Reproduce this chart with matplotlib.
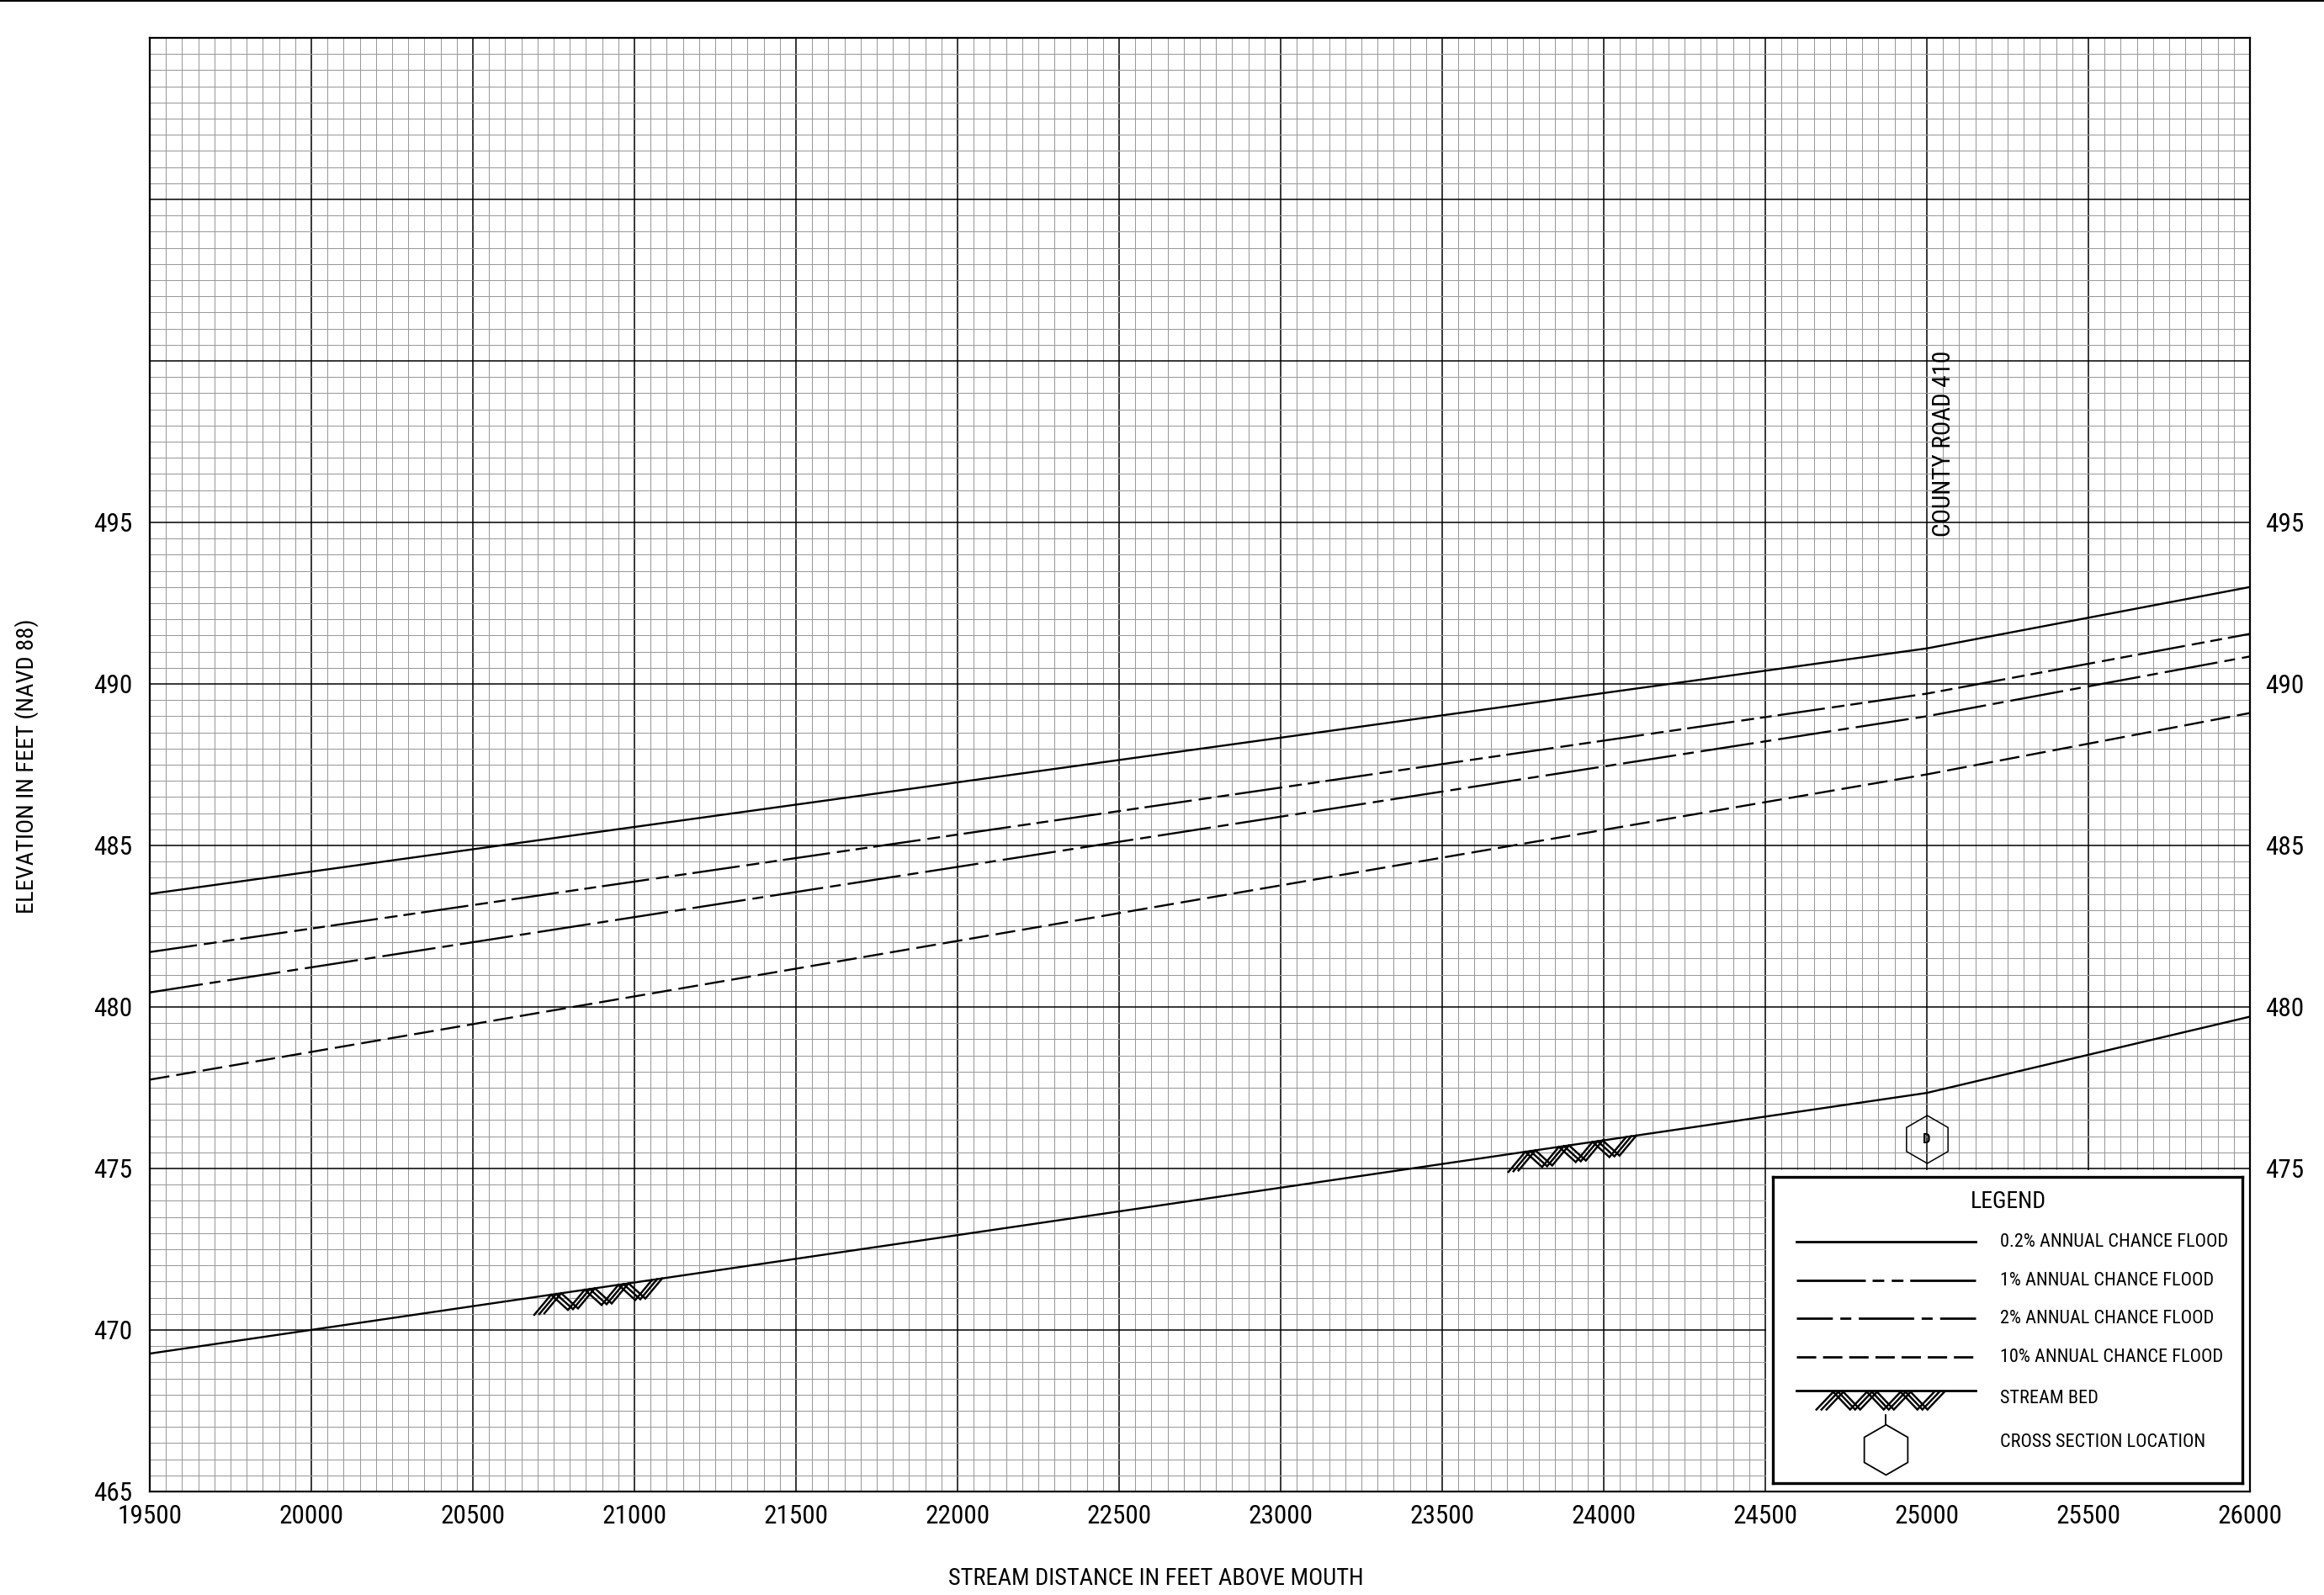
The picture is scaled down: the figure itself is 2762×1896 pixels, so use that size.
import numpy as np
import matplotlib
matplotlib.use('Agg')
import matplotlib.pyplot as plt
from matplotlib import font_manager
from matplotlib.lines import Line2D
from matplotlib.patches import Rectangle
from matplotlib.transforms import IdentityTransform
from matplotlib.ticker import MultipleLocator

# ---------------- data ----------------
stations = [19500, 25000, 26000]
flood_02 = [483.5, 491.1, 493.0]
flood_1 = [481.7, 489.7, 491.55]
flood_2 = [480.45, 489.0, 490.85]
flood_10 = [477.75, 487.2, 489.1]
stream_bed = [469.27, 477.34, 479.7]
hatch_ranges = [(20690, 21100), (23705, 24120)]
xs_station = 25000
xs_elev = 475.9
xs_letter = 'D'
road_station = 25000
road_label = 'COUNTY ROAD 410'
x_ticks = list(range(19500, 26001, 500))
y_major = list(range(465, 511, 5))
y_ticks_left = [465, 470, 475, 480, 485, 490, 495]
y_ticks_right = [475, 480, 485, 490, 495]
legend_labels = ['0.2% ANNUAL CHANCE FLOOD', '1% ANNUAL CHANCE FLOOD',
                 '2% ANNUAL CHANCE FLOOD', '10% ANNUAL CHANCE FLOOD',
                 'STREAM BED', 'CROSS SECTION LOCATION']

# ---------------- fonts ----------------
names = {f.name for f in font_manager.fontManager.ttflist}
if 'Liberation Sans Narrow' in names:
    plt.rcParams['font.family'] = ['Liberation Sans Narrow', 'DejaVu Sans']
elif 'Roboto Condensed' in names:
    plt.rcParams['font.family'] = ['Roboto Condensed', 'DejaVu Sans']
else:
    plt.rcParams['font.family'] = ['DejaVu Sans']
    plt.rcParams['font.stretch'] = 'condensed'

W, H = 2762, 1896
fig = plt.figure(figsize=(W / 100, H / 100), dpi=100)
L, R, B, T = 178, 2674, 1773, 45
ax = fig.add_axes([L / W, 1 - B / H, (R - L) / W, (B - T) / H])
ax.set_xlim(19500, 26000)
ax.set_ylim(465, 510)
ax.set_xticks(x_ticks)
ax.set_xticklabels([str(v) for v in x_ticks])
ax.set_yticks(y_major)
ax.set_yticklabels([str(v) if v in y_ticks_left else '' for v in y_major])
ax.xaxis.set_minor_locator(MultipleLocator(50))
ax.yaxis.set_minor_locator(MultipleLocator(0.5))
ax.set_axisbelow(True)
ax.grid(which='minor', color='#9a9a9a', lw=0.75)
ax.grid(which='major', color='black', lw=1.1)
ax.tick_params(which='both', length=0)
ax.tick_params(axis='x', pad=11, labelsize=22.5)
ax.tick_params(axis='y', pad=15, labelsize=22.5)
for s in ax.spines.values():
    s.set_linewidth(1.6)

ax2 = ax.twinx()
ax2.set_ylim(465, 510)
ax2.set_yticks(y_ticks_right)
ax2.set_yticklabels([str(v) for v in y_ticks_right])
ax2.tick_params(length=0, pad=13, labelsize=22.5)
for s in ax2.spines.values():
    s.set_visible(False)

# profiles
LW = 1.7
ax.plot(stations, flood_02, color='k', lw=LW, zorder=3)
ax.plot(stations, flood_1, color='k', lw=LW, dashes=(24, 3.5, 6.5, 3, 6, 3), zorder=3)
ax.plot(stations, flood_2, color='k', lw=LW, dashes=(27, 3.5, 5.5, 3.5), zorder=3)
ax.plot(stations, flood_10, color='k', lw=LW, dashes=(10, 3.5), zorder=3)
ax.plot(stations, stream_bed, color='k', lw=LW, zorder=3)

# cross section marker
ax.plot([xs_station], [xs_elev], marker='h', ms=41, mfc='none', mec='k', mew=1.1,
        ls='none', zorder=3)
ax.text(xs_station, xs_elev, xs_letter, ha='center', va='center', fontsize=12,
        fontweight='bold', zorder=4)

# road label
ax.text(road_station + 15, 494.55, road_label, rotation=90, ha='left', va='bottom',
        fontsize=21, zorder=4)

# white area for legend
ax.add_patch(Rectangle((24503, 465), 1497, 9.96, facecolor='white', edgecolor='none',
                       zorder=2))


def hatch(x0, x1, yfun, z):
    half, depth, shift = 20.0, 21.0, 6.0
    n = int(round((x1 - x0 - 2 * shift) / half))
    idx = np.arange(n + 1)
    offs = np.where(idx % 2 == 0, depth, 0.0)
    for j in range(3):
        xs = x0 + idx * half + j * shift
        ys = yfun(xs) - offs
        fig.add_artist(Line2D(xs, ys, transform=IdentityTransform(), color='k',
                              lw=1.75, zorder=z, solid_joinstyle='miter'))


bed_pix = ax.transData.transform(np.column_stack([stations, stream_bed]))


def bed_y(xp):
    return np.interp(xp, bed_pix[:, 0], bed_pix[:, 1])


for a, b in hatch_ranges:
    xa = ax.transData.transform((a, 470))[0]
    xb = ax.transData.transform((b, 470))[0]
    hatch(xa, xb, bed_y, 2)

# legend axes
p0 = fig.transFigure.inverted().transform(ax.transData.transform((24523, 465.26)))
p1 = fig.transFigure.inverted().transform(ax.transData.transform((25977, 474.74)))
lax = fig.add_axes([p0[0], p0[1], p1[0] - p0[0], p1[1] - p0[1]], zorder=10)
lax.set_xlim(0, 1)
lax.set_ylim(0, 1)
lax.set_xticks([])
lax.set_yticks([])
lax.set_facecolor('white')
for s in lax.spines.values():
    s.set_linewidth(2.4)

lax.text(0.502, 0.920, 'LEGEND', ha='center', va='center', fontsize=20)
lx = [0.05, 0.432]
ly = [0.788, 0.662, 0.538, 0.412]
lax.plot(lx, [ly[0]] * 2, color='k', lw=2)
lax.plot(lx, [ly[1]] * 2, color='k', lw=2, dashes=(29.5, 2.9, 5, 3.2, 5, 2.9))
lax.plot(lx, [ly[2]] * 2, color='k', lw=2, ls=(8.3, (23.7, 3.2, 4.7, 3.2)))
lax.plot(lx, [ly[3]] * 2, color='k', lw=2, dashes=(8.3, 2.9))
lax.plot(lx, [0.302] * 2, color='k', lw=2)
ty = [0.788, 0.662, 0.538, 0.412, 0.277, 0.132]
for lab, y in zip(legend_labels, ty):
    lax.text(0.484, y, lab, ha='left', va='center', fontsize=16)

lp0 = lax.transAxes.transform((0.093, 0.302))
lp1 = lax.transAxes.transform((0.380, 0.302))
hatch(lp0[0], lp1[0], lambda xp: np.full_like(xp, lp0[1] - 1.5), 20)

lax.plot([0.24], [0.11], marker='h', ms=43, mfc='none', mec='k', mew=1.3, ls='none')
lax.plot([0.24, 0.24], [0.192, 0.2225], color='k', lw=1.3)

# axis labels
fig.text(1374 / W, 1 - 1876 / H, 'STREAM DISTANCE IN FEET ABOVE MOUTH', ha='center',
         va='center', fontsize=20.5)
fig.text(32 / W, 1 - 911 / H, 'ELEVATION IN FEET (NAVD 88)', ha='center', va='center',
         rotation=90, fontsize=20.5)

# top rule
fig.add_artist(Line2D([0, 1], [1 - 1 / H, 1 - 1 / H], transform=fig.transFigure,
                      color='k', lw=1.5))

fig.savefig('out.png', dpi=100)
